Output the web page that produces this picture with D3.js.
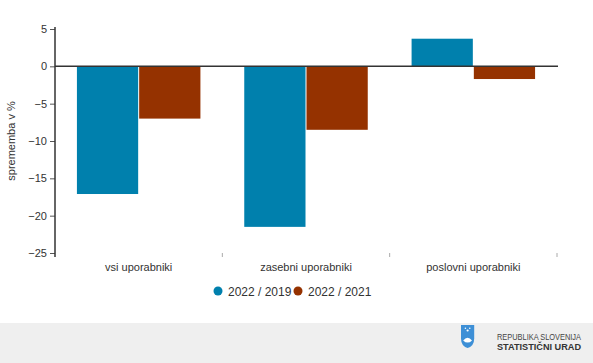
<!DOCTYPE html>
<html>
<head>
<meta charset="utf-8">
<script src="https://cdn.jsdelivr.net/npm/d3@7"></script>
<style>
  body{margin:0;background:#fff;font-family:"Liberation Sans",Arial,sans-serif;}
</style>
</head>
<body>
<svg id="chart" width="593" height="363"></svg>
<script>
const categories = ["vsi uporabniki","zasebni uporabniki","poslovni uporabniki"];
const seriesNames = ["2022 / 2019","2022 / 2021"];
const seriesColors = ["#0080ad","#953200"];
const v2019 = [-17.1,-21.5,3.7];
const v2021 = [-7.0,-8.5,-1.7];
const yTicks = [5,0,-5,-10,-15,-20,-25];

const svg = d3.select("#chart");
const L = 55, R = 557, T = 29, B = 253;

const x = d3.scaleBand().domain(categories).range([L,R]);
const xs = d3.scaleBand().domain(seriesNames).range([0,x.bandwidth()]).paddingOuter(0.355);
const y = d3.scaleLinear().domain([-25,5]).range([B,T]);

// footer
svg.append("rect").attr("x",0).attr("y",323).attr("width",593).attr("height",40).attr("fill","#efefef");

// bars
const rows = categories.map((c,i)=>({c, vals:[v2019[i],v2021[i]]}));
const g = svg.append("g");
rows.forEach(r=>{
  r.vals.forEach((v,j)=>{
    g.append("rect")
      .attr("x", x(r.c)+xs(seriesNames[j]) + (j===1?0.5:0))
      .attr("width", xs.bandwidth() - 0.5)
      .attr("y", y(Math.max(0,v)))
      .attr("height", Math.abs(y(v)-y(0)))
      .attr("fill", seriesColors[j]);
  });
});

// zero line
svg.append("line").attr("x1",L).attr("x2",R+1).attr("y1",y(0)).attr("y2",y(0))
  .attr("stroke","#333").attr("stroke-width",1.5);

// y axis
const yAxis = d3.axisLeft(y).tickValues(yTicks).tickSize(5).tickPadding(3);
const ya = svg.append("g").attr("transform",`translate(${L},0)`).call(yAxis);
ya.select(".domain").remove();
ya.selectAll(".tick line").attr("stroke","#555");
ya.selectAll("text").attr("fill","#333").style("font-size","11px").style("font-family","Liberation Sans, Arial, sans-serif");
svg.append("line").attr("x1",L).attr("x2",L).attr("y1",T-2).attr("y2",B+4).attr("stroke","#333").attr("stroke-width",1.5);

// x category ticks
const bounds = categories.map(c=>x(c)).concat([R]);
svg.selectAll(".xt").data(bounds.slice(1)).enter().append("line")
  .attr("x1",d=>d).attr("x2",d=>d).attr("y1",B).attr("y2",B+4)
  .attr("stroke","#aaa");

svg.selectAll(".xl").data(categories).enter().append("text")
  .attr("x",d=>x(d)+x.bandwidth()/2).attr("y",B+18)
  .attr("text-anchor","middle").attr("fill","#333")
  .style("font-size","11px").text(d=>d);

// y title
svg.append("text").attr("transform",`translate(15,${(T+B)/2}) rotate(-90)`)
  .attr("text-anchor","middle").attr("fill","#333").style("font-size","11px")
  .text("sprememba v %");

// legend
const leg = svg.append("g").attr("transform","translate(218,291)");
const lx = [0,80];
seriesNames.forEach((s,i)=>{
  leg.append("circle").attr("cx",lx[i]).attr("cy",0).attr("r",4.5).attr("fill",seriesColors[i]);
  leg.append("text").attr("x",lx[i]+10).attr("y",4.5).attr("fill","#333")
    .style("font-size","12px").text(s);
});

// logo
const lg = svg.append("g").attr("transform","translate(461,325) scale(1.1)");
lg.append("path").attr("d","M0,0 L12,0 L12,12 Q12,19 6,21 Q0,19 0,12 Z").attr("fill","#3d8fd6");
lg.append("path").attr("d","M2,14 Q6,9 10,14 Q6,18 2,14 Z").attr("fill","#fff");
lg.append("circle").attr("cx",6).attr("cy",5).attr("r",1).attr("fill","#fff");
lg.append("circle").attr("cx",4).attr("cy",3).attr("r",0.7).attr("fill","#fff");
lg.append("circle").attr("cx",8).attr("cy",3).attr("r",0.7).attr("fill","#fff");
svg.append("text").attr("x",497).attr("y",340).attr("fill","#444").style("font-size","8.5px")
  .attr("textLength",84).attr("lengthAdjust","spacingAndGlyphs").text("REPUBLIKA SLOVENIJA");
svg.append("text").attr("x",497).attr("y",350).attr("fill","#333").style("font-size","9px").style("font-weight","bold")
  .attr("textLength",84).attr("lengthAdjust","spacingAndGlyphs").text("STATISTIČNI URAD");
</script>
</body>
</html>
